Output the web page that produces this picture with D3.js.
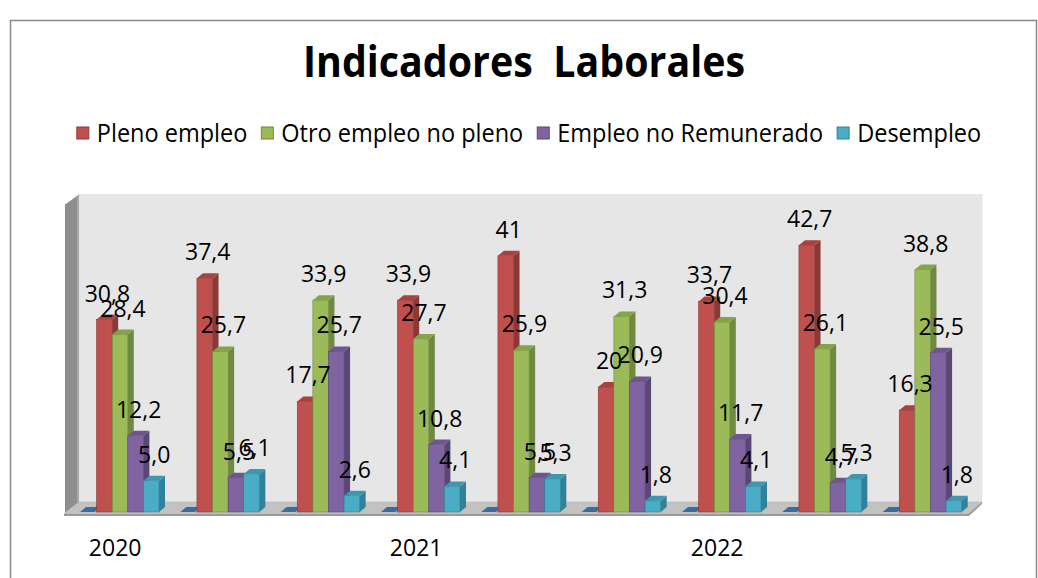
<!DOCTYPE html>
<html>
<head>
<meta charset="utf-8">
<script src="https://cdn.jsdelivr.net/npm/d3@7"></script>
<style>
  body { margin: 0; background: #fff; }
  text { font-family: "Open Sans", sans-serif; fill: #000; }
</style>
</head>
<body>
<div id="chart"></div>
<script>
// datos
var periodos = ["2020", "", "", "2021", "", "", "2022", "", ""]
var plenoEmpleo = [30.8, 37.4, 17.7, 33.9, 41, 20, 33.7, 42.7, 16.3]
var otroEmpleo = [28.4, 25.7, 33.9, 27.7, 25.9, 31.3, 30.4, 26.1, 38.8]
var empleoNoRemunerado = [12.2, 5.5, 25.7, 10.8, 5.5, 20.9, 11.7, 4.7, 25.5]
var desempleo = [5.0, 6.1, 2.6, 4.1, 5.3, 1.8, 4.1, 5.3, 1.8]
var sinDato = [0, 0, 0, 0, 0, 0, 0, 0, 0]
var nombres = ["Pleno empleo", "Otro empleo no pleno", "Empleo no Remunerado", "Desempleo"]

var width = 1038
var height = 578

var colores = {
	blank: {front: "#3E6A9E", side: "#2F5580", top: "#3E6A9E"},
	s0: {front: "#C0504D", side: "#8C3836", top: "#A6423F"},
	s1: {front: "#9BBB59", side: "#6F893E", top: "#86A24A"},
	s2: {front: "#8064A2", side: "#5B4676", top: "#6D568C"},
	s3: {front: "#4BACC6", side: "#2F8299", top: "#3C97AF"}
}

var locale = d3.formatLocale({decimal: ",", thousands: ".", grouping: [3], currency: ["", ""]})
var formatos = [locale.format("~"), locale.format("~"), locale.format("~"), locale.format(".1f")]

var series = [
	{key: "blank", values: sinDato},
	{key: "s0", values: plenoEmpleo},
	{key: "s1", values: otroEmpleo},
	{key: "s2", values: empleoNoRemunerado},
	{key: "s3", values: desempleo}
]

var svg = d3.select("#chart").append("svg").attr("width", width).attr("height", height)

svg.append("rect").attr("x", 10.5).attr("y", 20.5).attr("width", 1026).attr("height", 600)
	.attr("fill", "#fff").attr("stroke", "#8a8a8a").attr("stroke-width", 1.5)

// titulo
svg.append("text").text("Indicadores  Laborales")
	.attr("x", 524).attr("y", 77)
	.attr("text-anchor", "middle")
	.style("font-weight", 700).style("font-size", "43px")
	.attr("textLength", 442).attr("lengthAdjust", "spacingAndGlyphs")
	.style("white-space", "pre")

// escalas
var x0 = d3.scaleBand().domain(d3.range(periodos.length)).range([65, 968])
var x1 = d3.scaleBand().domain(series.map(function(s){ return s.key })).range([16, 94])
var y = d3.scaleLinear().domain([0, 50]).range([512, 199.5])

var dx = 6, dy = 5
var depthX = 14, depthY = 10

// paredes y piso
var wallTop = y(50) - 5, floorBack = y(0) - depthY, left = x0.range()[0], right = x0.range()[1]
svg.append("rect").attr("x", left + depthX).attr("y", wallTop)
	.attr("width", right - left).attr("height", floorBack - wallTop)
	.attr("fill", "#e6e6e6").attr("stroke", "#dcdcdc").attr("stroke-width", 0.5)
svg.append("path")
	.attr("d", "M" + left + "," + (wallTop + depthY) + "L" + (left + depthX) + "," + wallTop +
		"L" + (left + depthX) + "," + floorBack + "L" + left + "," + (y(0) + 1) + "Z")
	.attr("fill", "#8e8e8e")
svg.append("line").attr("x1", left + depthX - 1).attr("x2", left + depthX - 1)
	.attr("y1", wallTop + 1).attr("y2", floorBack).attr("stroke", "#a8a8a8").attr("stroke-width", 2)
svg.append("path")
	.attr("d", "M" + (left - 1) + "," + (y(0) + 2) + "L" + (left + depthX) + "," + floorBack +
		"L" + (right + depthX) + "," + floorBack + "L" + right + "," + (y(0) + 2) + "Z")
	.attr("fill", "#c2c2c2").attr("stroke", "#b0b0b0").attr("stroke-width", 0.5)
svg.append("path")
	.attr("d", "M" + (left - 1) + "," + (y(0) + 2) + "L" + right + "," + (y(0) + 2) +
		"L" + (right + depthX) + "," + floorBack + "L" + (right + depthX) + "," + (floorBack + 2) +
		"L" + (right + 1) + "," + (y(0) + 4) + "L" + (left - 1) + "," + (y(0) + 4) + "Z")
	.attr("fill", "#9a9a9a")

// barras 3d
var w = x1.bandwidth()
periodos.forEach(function(p, i){
	var g = svg.append("g").attr("transform", "translate(" + x0(i) + ",0)")
	series.forEach(function(s){
		var v = s.values[i]
		var c = colores[s.key]
		var bx = x1(s.key), yt = y(v), yb = y(0)
		if(s.key == "blank"){
			g.append("path")
				.attr("d", "M" + (bx - 1) + "," + yb + "L" + (bx - 1 + dx) + "," + (yb - dy) +
					"L" + (bx + w + dx - 2) + "," + (yb - dy) + "L" + (bx + w - 2) + "," + yb + "Z")
				.attr("fill", c.top)
			return
		}
		g.append("rect").attr("x", bx).attr("y", yt).attr("width", w).attr("height", yb - yt)
			.attr("fill", c.front).attr("stroke", c.side).attr("stroke-width", 0.6)
		g.append("path")
			.attr("d", "M" + (bx + w) + "," + yt + "L" + (bx + w + dx) + "," + (yt - dy) +
				"L" + (bx + w + dx) + "," + (yb - dy) + "L" + (bx + w) + "," + yb + "Z")
			.attr("fill", c.side)
		g.append("path")
			.attr("d", "M" + bx + "," + yt + "L" + (bx + dx) + "," + (yt - dy) +
				"L" + (bx + w + dx) + "," + (yt - dy) + "L" + (bx + w) + "," + yt + "Z")
			.attr("fill", c.top)
	})
})

// etiquetas de datos
periodos.forEach(function(p, i){
	series.slice(1).forEach(function(s, k){
		var v = s.values[i]
		svg.append("text").text(formatos[k](v))
			.attr("x", x0(i) + x1(s.key) + w / 2 + 3)
			.attr("y", y(v) - 18)
			.attr("text-anchor", "middle")
			.style("font-size", "23px")
	})
})

// eje x
var axis = svg.append("g").attr("transform", "translate(0," + y(0) + ")")
	.call(d3.axisBottom(x0).tickSize(0).tickPadding(28).tickFormat(function(d){ return periodos[d] }))
axis.select(".domain").remove()
axis.selectAll("text").style("font-size", "23px").style("font-family", "'Open Sans', sans-serif").attr("fill", "#000")

// leyenda
var legend = svg.append("g")
var lx = 0
nombres.forEach(function(n, k){
	var item = legend.append("g").attr("transform", "translate(" + lx + ",0)")
	item.append("rect").attr("x", 0).attr("y", -6).attr("width", 12).attr("height", 12)
		.attr("fill", colores["s" + k].front).attr("stroke", colores["s" + k].side).attr("stroke-width", 1)
	var t = item.append("text").text(n).attr("x", 20).attr("y", 9).style("font-size", "25px")
	var tw = t.node().getComputedTextLength() * 0.94
	t.attr("textLength", tw).attr("lengthAdjust", "spacingAndGlyphs")
	lx += 20 + tw + 14
})
lx -= 14
legend.attr("transform", "translate(" + (529 - lx / 2) + ",133)")
</script>
</body>
</html>
